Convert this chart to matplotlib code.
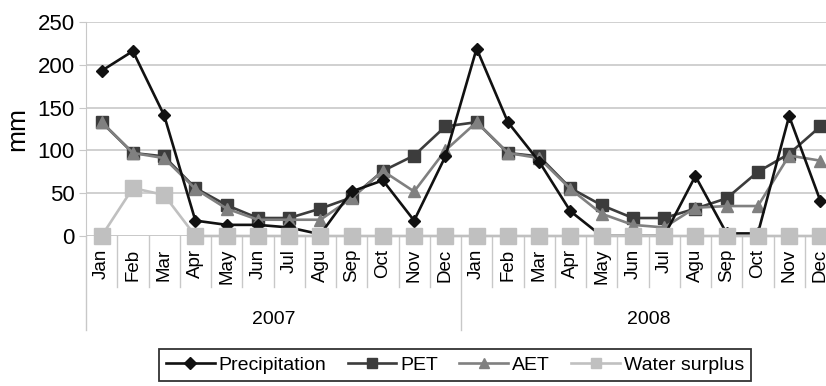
import matplotlib
matplotlib.use("Agg")
import matplotlib.pyplot as plt
import matplotlib.transforms as mtransforms

months = ["Jan", "Feb", "Mar", "Apr", "May", "Jun", "Jul", "Agu", "Sep", "Oct", "Nov", "Dec"]
years = ["2007", "2008"]
categories = months * 2

precipitation = [193, 216, 141, 18, 13, 13, 10, 2, 52, 65, 18, 93,
                 219, 133, 87, 29, 0, 0, 0, 70, 3, 3, 140, 41]
pet = [133, 97, 93, 56, 36, 21, 21, 32, 45, 76, 94, 128,
       133, 97, 93, 56, 36, 21, 21, 32, 44, 75, 96, 128]
aet = [133, 97, 91, 55, 32, 19, 19, 19, 44, 76, 52, 100,
       133, 97, 91, 55, 26, 13, 10, 33, 35, 35, 94, 88]
water_surplus = [0, 56, 48, 0, 0, 0, 0, 0, 0, 0, 0, 0,
                 0, 0, 0, 0, 0, 0, 0, 0, 0, 0, 0, 0]
yticks = [0, 50, 100, 150, 200, 250]

plt.rcParams['font.family'] = ['Liberation Sans', 'DejaVu Sans']

fig = plt.figure(figsize=(8.26, 3.86), dpi=100)
ax = fig.add_axes([86/826, 1-236/386, 750/826, 214/386])

x = list(range(len(categories)))
l1, = ax.plot(x, precipitation, color='#111111', lw=1.9, marker='D', ms=6.5, zorder=4, label='Precipitation')
l2, = ax.plot(x, pet, color='#3c3c3c', lw=1.9, marker='s', ms=9, zorder=2, label='PET')
l3, = ax.plot(x, aet, color='#808080', lw=1.9, marker='^', ms=9, zorder=3, label='AET')
l4, = ax.plot(x, water_surplus, color='#c0c0c0', lw=1.9, marker='s', ms=11.5, zorder=5, label='Water surplus', clip_on=False)

ax.set_xlim(-0.5, len(categories)-0.5)
ax.set_ylim(0, 250)
ax.set_yticks(yticks)
ax.set_yticklabels([str(v) for v in yticks], fontsize=16)
ax.yaxis.grid(True, color='#c8c8c8', lw=1.2)
ax.set_axisbelow(True)
for s in ['top', 'right', 'bottom']:
    ax.spines[s].set_visible(False)
ax.spines['left'].set_color('#c8c8c8')
ax.tick_params(axis='y', length=5, color='#c8c8c8', pad=3)
ax.set_xticks([])
ax.set_ylabel('mm', fontsize=19, labelpad=6)

trans = mtransforms.blended_transform_factory(ax.transData, ax.transAxes)
ax.axhline(0, color='#c8c8c8', lw=1.2, zorder=1)
for i in range(len(categories)+1):
    b = i - 0.5
    if i % 12 == 0:
        y0 = -0.44
    else:
        y0 = -0.238
    ax.plot([b, b], [0, y0], transform=trans, color='#c8c8c8', lw=1, clip_on=False, zorder=1)

for i, m in enumerate(categories):
    ax.text(i, -0.06, m, transform=trans, rotation=90, ha='center', va='top', fontsize=13.5)
for j, yname in enumerate(years):
    ax.text(j*12 + 5.5, -0.39, yname, transform=trans, ha='center', va='center', fontsize=14)

leg = fig.legend(handles=[l1, l2, l3, l4], loc='center', bbox_to_anchor=(455/826, 1-365/386),
                 ncol=4, fontsize=14, frameon=True, fancybox=False, edgecolor='black',
                 handlelength=2.5, handletextpad=0.2, columnspacing=1.1, borderpad=0.35)
leg.get_frame().set_linewidth(1.3)
for h in leg.legend_handles:
    h.set_markersize(6.5)

fig.savefig('out.png', dpi=100)
